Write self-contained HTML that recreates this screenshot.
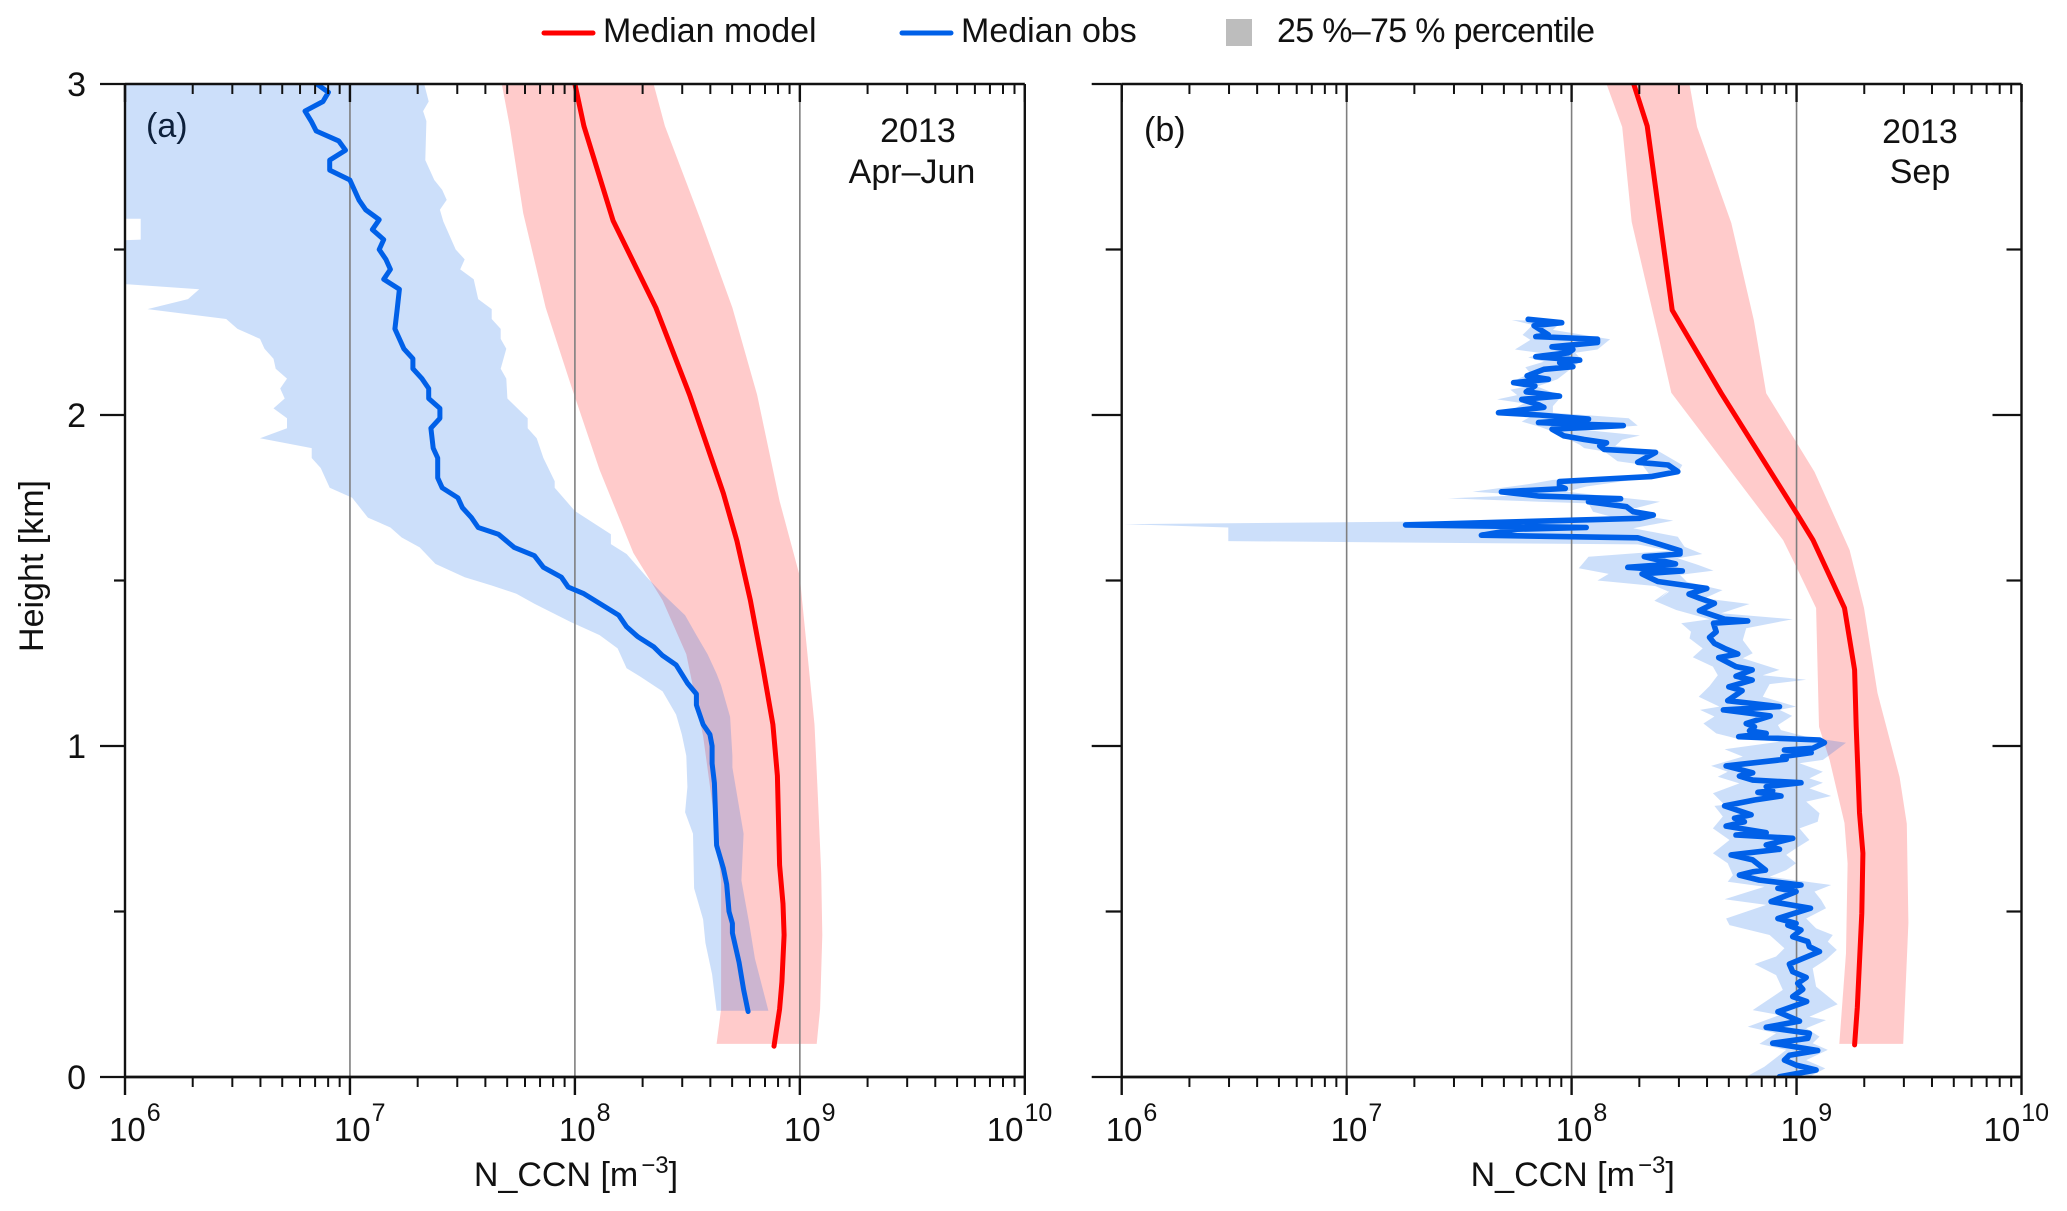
<!DOCTYPE html>
<html lang="en">
<head>
<meta charset="utf-8">
<title>N_CCN height profiles</title>
<style>
html,body{margin:0;padding:0;background:#fff;}
svg{display:block;font-family:"Liberation Sans",Arial,sans-serif;fill:#111;}
text{fill:#111;}
</style>
</head>
<body>
<svg id="chart" xmlns="http://www.w3.org/2000/svg" width="2067" height="1211" viewBox="0 0 2067 1211">
<rect x="0" y="0" width="2067" height="1211" fill="#fff"/>
<g>
<line x1="544" y1="33" x2="593" y2="33" stroke="#ff0000" stroke-width="5" stroke-linecap="round"/>
<text x="603" y="42" font-size="34">Median model</text>
<line x1="902" y1="33" x2="951" y2="33" stroke="#0060e8" stroke-width="5" stroke-linecap="round"/>
<text x="961" y="42" font-size="34">Median obs</text>
<rect x="1226" y="19" width="26" height="27" fill="#bdbdbd"/>
<text x="1277" y="42" font-size="34" textLength="318" lengthAdjust="spacing">25 %–75 % percentile</text>
</g>
<text transform="translate(43,566) rotate(-90)" text-anchor="middle" font-size="34">Height [km]</text>
<text x="146" y="137" font-size="34">(a)</text>
<text x="918" y="142" font-size="34" text-anchor="middle">2013</text>
<text x="912" y="183" font-size="34" text-anchor="middle">Apr–Jun</text>
<text x="1144" y="141" font-size="34">(b)</text>
<text x="1920" y="143" font-size="34" text-anchor="middle">2013</text>
<text x="1920" y="183" font-size="34" text-anchor="middle">Sep</text>
</svg>
<script>
// Axis data
const xDecades = [6, 7, 8, 9, 10];
const xMinorMultipliers = [2, 3, 4, 5, 6, 7, 8, 9];
const yMajorTicks = [0, 1, 2, 3];
const yMinorTicks = [0.5, 1.5, 2.5];

// Panel (a) 2013 Apr-Jun: heights in km, values as log10(N_CCN)
const aModelHeight = [3.0,2.873,2.587,2.324,2.061,1.763,1.62,1.44,1.241,1.065,0.91,0.64,0.523,0.429,0.287,0.205,0.093];
const aModelLogN = [8.0,8.04,8.17,8.36,8.51,8.66,8.72,8.78,8.835,8.88,8.90,8.91,8.925,8.93,8.92,8.91,8.885];
const aModelQ25Height = [3.0,2.873,2.61,2.324,2.085,1.834,1.583,1.44,1.277,1.03,0.806,0.594,0.205,0.1];
const aModelQ25LogN = [7.675,7.71,7.77,7.87,7.985,8.11,8.26,8.39,8.495,8.57,8.615,8.65,8.65,8.63];
const aModelQ75Height = [3.0,2.873,2.587,2.324,2.061,1.74,1.513,1.44,1.065,0.853,0.617,0.429,0.205,0.1];
const aModelQ75LogN = [8.35,8.40,8.56,8.70,8.81,8.91,9.0,9.01,9.065,9.08,9.095,9.10,9.09,9.075];
const aObsHeight = [3.0,2.975,2.947,2.918,2.885,2.858,2.828,2.80,2.77,2.74,2.71,2.65,2.62,2.59,2.56,2.53,2.50,2.47,2.44,2.41,2.38,2.32,2.26,2.20,2.17,2.14,2.11,2.08,2.05,2.02,1.99,1.96,1.90,1.87,1.81,1.78,1.75,1.72,1.69,1.66,1.64,1.60,1.575,1.54,1.51,1.48,1.46,1.395,1.36,1.33,1.30,1.273,1.245,1.19,1.157,1.124,1.065,1.035,1.0,0.947,0.888,0.70,0.63,0.582,0.50,0.464,0.435,0.346,0.264,0.198];
const aObsLogN = [6.853,6.904,6.88,6.80,6.83,6.85,6.95,6.98,6.91,6.91,7.0,7.04,7.07,7.13,7.10,7.15,7.13,7.16,7.18,7.15,7.22,7.21,7.20,7.24,7.28,7.28,7.32,7.35,7.35,7.40,7.40,7.36,7.37,7.39,7.39,7.41,7.48,7.50,7.54,7.57,7.66,7.73,7.82,7.86,7.94,7.97,8.04,8.195,8.23,8.28,8.35,8.39,8.45,8.50,8.54,8.54,8.57,8.60,8.61,8.61,8.62,8.63,8.66,8.675,8.685,8.70,8.70,8.73,8.75,8.77];
const aObsQ25Height = [3.0,2.593,2.593,2.53,2.525,2.40,2.38,2.35,2.32,2.29,2.26,2.23,2.20,2.17,2.14,2.11,2.08,2.05,2.02,1.99,1.96,1.93,1.90,1.87,1.84,1.78,1.75,1.69,1.66,1.63,1.60,1.55,1.51,1.485,1.46,1.43,1.375,1.335,1.295,1.235,1.21,1.165,1.095,1.035,0.97,0.876,0.80,0.735,0.57,0.476,0.405,0.31,0.2];
const aObsQ25LogN = [5.9,5.9,6.07,6.07,5.9,5.9,6.33,6.28,6.10,6.45,6.50,6.60,6.62,6.66,6.67,6.72,6.69,6.71,6.66,6.72,6.72,6.60,6.83,6.83,6.87,6.91,7.01,7.08,7.18,7.23,7.31,7.38,7.51,7.63,7.74,7.82,7.98,8.11,8.19,8.23,8.29,8.39,8.45,8.475,8.495,8.50,8.49,8.525,8.53,8.57,8.58,8.61,8.63];
const aObsQ75Height = [3.0,2.947,2.918,2.888,2.77,2.71,2.68,2.65,2.62,2.585,2.50,2.47,2.44,2.41,2.35,2.32,2.29,2.26,2.23,2.20,2.14,2.11,2.05,1.99,1.96,1.93,1.87,1.80,1.78,1.71,1.64,1.61,1.58,1.51,1.46,1.395,1.335,1.277,1.218,1.183,1.088,0.97,0.935,0.735,0.594,0.464,0.358,0.2];
const aObsQ75LogN = [7.33,7.35,7.325,7.34,7.335,7.375,7.41,7.43,7.40,7.415,7.47,7.51,7.49,7.55,7.57,7.63,7.63,7.67,7.67,7.695,7.67,7.695,7.70,7.79,7.79,7.83,7.86,7.91,7.91,8.0,8.16,8.16,8.23,8.32,8.39,8.49,8.54,8.59,8.63,8.65,8.69,8.70,8.70,8.75,8.74,8.775,8.80,8.86];

// Panel (b) 2013 Sep: heights in km, values as log10(N_CCN)
const bModelHeight = [3.0,2.873,2.317,2.066,1.704,1.622,1.417,1.23,1.058,0.798,0.676,0.495,0.21,0.097];
const bModelLogN = [8.276,8.336,8.447,8.665,9.0,9.073,9.213,9.258,9.265,9.28,9.295,9.29,9.27,9.258];
const bModelQ25Height = [3.0,2.87,2.583,2.227,2.067,1.622,1.54,1.417,1.058,0.958,0.767,0.646,0.374,0.1];
const bModelQ25LogN = [8.155,8.225,8.267,8.39,8.443,8.94,9.0,9.087,9.10,9.147,9.213,9.227,9.22,9.19];
const bModelQ75Height = [3.0,2.87,2.58,2.287,2.066,1.828,1.592,1.417,1.16,0.906,0.765,0.466,0.1];
const bModelQ75LogN = [8.524,8.558,8.71,8.81,8.865,9.08,9.236,9.30,9.36,9.458,9.49,9.497,9.474];
const bObsHeight = [2.289,2.279,2.27,2.242,2.237,2.229,2.219,2.206,2.198,2.188,2.176,2.168,2.166,2.158,2.146,2.138,2.118,2.108,2.098,2.088,2.07,2.057,2.047,2.03,2.023,2.007,2.0,1.988,1.977,1.973,1.968,1.957,1.937,1.926,1.916,1.907,1.896,1.887,1.857,1.849,1.829,1.814,1.799,1.785,1.778,1.768,1.755,1.747,1.738,1.723,1.708,1.698,1.688,1.668,1.66,1.655,1.637,1.629,1.609,1.59,1.58,1.572,1.55,1.54,1.529,1.52,1.497,1.476,1.459,1.446,1.431,1.409,1.383,1.378,1.371,1.345,1.328,1.31,1.295,1.278,1.267,1.24,1.23,1.211,1.199,1.179,1.167,1.137,1.119,1.109,1.091,1.068,1.058,1.046,1.038,1.028,1.018,1.01,0.993,0.988,0.98,0.968,0.96,0.94,0.919,0.909,0.897,0.889,0.877,0.865,0.86,0.849,0.837,0.819,0.792,0.782,0.771,0.758,0.738,0.731,0.721,0.701,0.688,0.671,0.656,0.625,0.62,0.61,0.595,0.58,0.57,0.56,0.53,0.51,0.479,0.464,0.459,0.444,0.424,0.409,0.394,0.379,0.341,0.318,0.301,0.283,0.265,0.243,0.228,0.197,0.169,0.15,0.132,0.117,0.102,0.08,0.066,0.051,0.036,0.021,0.001];
const bObsLogN = [7.807,7.956,7.833,7.897,7.841,8.115,8.115,7.913,8.006,7.986,7.841,7.996,8.036,7.947,8.006,7.877,7.802,7.897,7.742,7.837,7.798,7.946,7.778,7.857,7.877,7.675,7.857,8.075,7.853,7.996,8.23,7.913,7.966,8.056,8.155,8.125,8.145,8.373,8.294,8.429,8.472,8.353,7.946,7.946,7.972,7.688,7.857,8.218,8.075,8.244,8.274,8.363,8.304,7.262,8.065,7.758,7.599,8.294,8.393,8.482,8.482,8.323,8.462,8.25,8.492,8.313,8.383,8.601,8.522,8.571,8.635,8.568,8.68,8.783,8.631,8.643,8.613,8.635,8.68,8.739,8.654,8.731,8.803,8.731,8.803,8.699,8.758,8.694,8.924,8.675,8.883,8.776,8.813,8.791,8.865,8.743,9.102,9.124,9.072,8.946,9.065,8.939,8.954,8.687,8.805,8.746,8.805,9.02,8.865,8.894,8.828,8.931,8.813,8.68,8.798,8.724,8.768,8.687,8.865,8.731,8.983,8.865,8.924,8.709,8.805,8.862,8.805,8.746,8.835,9.02,8.917,8.998,8.887,9.062,8.917,8.998,8.961,9.02,8.983,9.05,9.057,9.102,8.968,8.983,9.043,9.005,9.028,8.983,9.045,8.917,9.013,8.865,9.057,9.05,8.894,9.094,8.968,8.946,8.998,9.087,8.924];
const bObsQ25Height = [2.287,2.272,2.242,2.227,2.198,2.186,2.174,2.161,2.144,2.126,2.111,2.098,2.086,2.076,2.06,2.047,2.035,2.02,2.007,1.995,1.98,1.965,1.95,1.91,1.9,1.89,1.86,1.85,1.814,1.804,1.793,1.768,1.758,1.748,1.738,1.733,1.708,1.693,1.681,1.67,1.66,1.619,1.609,1.59,1.572,1.537,1.52,1.50,1.483,1.466,1.446,1.471,1.439,1.411,1.383,1.371,1.345,1.325,1.295,1.268,1.24,1.214,1.181,1.149,1.119,1.109,1.089,1.068,1.038,1.023,1.013,0.99,0.968,0.94,0.922,0.907,0.887,0.857,0.822,0.819,0.787,0.751,0.716,0.676,0.646,0.61,0.59,0.575,0.537,0.52,0.479,0.459,0.429,0.389,0.364,0.341,0.308,0.263,0.202,0.187,0.152,0.132,0.1,0.082,0.031,0.001];
const bObsQ25LogN = [7.734,7.827,7.782,7.817,7.748,7.877,7.807,7.877,7.794,7.817,7.768,7.734,7.798,7.728,7.758,7.669,7.788,7.748,7.669,7.817,7.778,7.857,7.917,8.036,8.056,8.145,8.204,8.313,8.353,7.917,7.827,7.56,7.798,7.45,7.857,8.075,8.095,8.175,7.798,6.012,6.474,6.474,8.294,8.433,8.075,8.032,8.165,8.115,8.373,8.433,8.393,8.435,8.368,8.465,8.613,8.487,8.531,8.524,8.583,8.539,8.628,8.65,8.613,8.565,8.657,8.571,8.635,8.586,8.643,8.731,8.924,8.68,8.761,8.62,8.694,8.65,8.746,8.628,8.68,8.635,8.672,8.628,8.702,8.628,8.694,8.717,8.694,8.857,8.68,8.865,8.687,8.702,8.88,8.946,8.909,8.813,8.909,8.939,8.805,8.924,8.783,8.909,8.835,8.954,8.857,8.776];
const bObsQ75Height = [2.282,2.257,2.229,2.198,2.188,2.166,2.144,2.108,2.086,2.057,2.027,2.007,1.99,1.968,1.955,1.938,1.925,1.906,1.892,1.849,1.826,1.812,1.784,1.768,1.738,1.713,1.703,1.693,1.681,1.658,1.632,1.602,1.58,1.567,1.547,1.53,1.517,1.496,1.471,1.446,1.429,1.401,1.383,1.356,1.32,1.28,1.265,1.23,1.214,1.2,1.187,1.149,1.119,1.109,1.091,1.063,1.048,1.028,1.01,0.98,0.958,0.948,0.922,0.902,0.889,0.872,0.849,0.832,0.797,0.771,0.751,0.716,0.691,0.671,0.646,0.625,0.605,0.58,0.56,0.535,0.51,0.479,0.449,0.429,0.409,0.384,0.354,0.328,0.273,0.22,0.182,0.172,0.147,0.122,0.102,0.082,0.051,0.026,0.001];
const bObsQ75LogN = [7.956,7.917,8.171,8.115,8.016,8.046,8.006,7.937,7.847,7.956,7.917,7.917,8.254,8.294,8.056,8.304,8.224,8.194,8.383,8.492,8.472,8.353,8.065,7.976,8.393,8.254,8.373,8.343,8.452,8.274,8.472,8.502,8.581,8.472,8.562,8.631,8.482,8.512,8.671,8.591,8.791,8.665,8.983,8.776,8.761,8.805,8.761,8.924,8.85,9.043,8.88,8.85,8.998,8.924,8.98,8.917,8.931,9.043,9.22,9.161,9.117,9.013,9.117,9.057,9.117,9.057,9.154,9.043,9.102,9.094,9.013,9.057,8.998,8.954,8.998,8.954,8.88,9.154,9.08,9.109,9.131,9.043,9.087,9.161,9.139,9.179,9.131,9.072,9.087,9.183,9.057,9.131,9.043,9.102,9.072,9.139,9.043,9.128,9.057];

// Axis functions
const SVG_NS = 'http://www.w3.org/2000/svg';
const chart = document.getElementById('chart');
const DECADE_PX = 224.95;
const LOG_MIN = 6;
const LOG_MAX = 10;
const Y_ZERO = 1077;
const KM_PX = 331;
const Y_TOP = Y_ZERO - 3 * KM_PX;

function xScale(left, logN) { return left + (logN - LOG_MIN) * DECADE_PX; }
function yScale(km) { return Y_ZERO - km * KM_PX; }

function make(tag, parent, attrs) {
  const el = document.createElementNS(SVG_NS, tag);
  for (const k in attrs) el.setAttribute(k, attrs[k]);
  parent.appendChild(el);
  return el;
}
function linePoints(left, heights, logs) {
  const pts = [];
  const n = Math.min(heights.length, logs.length);
  for (let i = 0; i < n; i++) pts.push(xScale(left, logs[i]).toFixed(1) + ',' + yScale(heights[i]).toFixed(1));
  return pts;
}
function axisLine(parent, name, x1, y1, x2, y2, w) {
  const el = make('line', parent, {x1: x1, y1: y1, x2: x2, y2: y2, stroke: '#111', 'stroke-width': w});
  
  
  return el;
}

function drawPanel(id, left, cfg) {
  const right = xScale(left, LOG_MAX);
  const plotWidth = right - left;
  const panel = make('g', chart, {});
  
  

  const defs = make('defs', panel, {});
  const clip = make('clipPath', defs, {id: 'clip-' + id});
  make('rect', clip, {x: left, y: Y_TOP, width: plotWidth, height: Y_ZERO - Y_TOP});

  // percentile bands
  const bands = make('g', panel, {'clip-path': 'url(#clip-' + id + ')'});
  
  
  const modelPts = linePoints(left, cfg.mq25h, cfg.mq25).concat(linePoints(left, cfg.mq75h, cfg.mq75).reverse());
  const modelBand = make('polygon', bands, {points: modelPts.join(' '), fill: '#ffcbcb'});
  
  
  const obsPts = linePoints(left, cfg.oq25h, cfg.oq25).concat(linePoints(left, cfg.oq75h, cfg.oq75).reverse());
  const obsBand = make('polygon', bands, {points: obsPts.join(' '), fill: 'rgb(0,95,230)', 'fill-opacity': '0.2'});
  
  

  // decade gridlines
  xDecades.slice(1, -1).forEach(function (d) {
    const gx = xScale(left, d);
    const g = make('line', panel, {x1: gx, y1: Y_TOP, x2: gx, y2: Y_ZERO, stroke: '#7f7f7f', 'stroke-width': 1.6});
    
    
  });

  // median lines
  const lines = make('g', panel, {'clip-path': 'url(#clip-' + id + ')', fill: 'none', 'stroke-linejoin': 'round', 'stroke-linecap': 'round'});
  
  
  const model = make('polyline', lines, {points: linePoints(left, cfg.mh, cfg.m).join(' '), stroke: '#ff0000', 'stroke-width': 5});
  
  
  const obs = make('polyline', lines, {points: linePoints(left, cfg.oh, cfg.o).join(' '), stroke: '#0060e8', 'stroke-width': cfg.obsWidth});
  
  

  // frame
  const axes = make('g', panel, {});
  
  
  axisLine(axes, 'frame-left-' + id, left, Y_TOP, left, Y_ZERO, 2.4);
  axisLine(axes, 'frame-right-' + id, right, Y_TOP, right, Y_ZERO, 2.4);
  axisLine(axes, 'frame-top-' + id, left, Y_TOP, right, Y_TOP, 2.4);
  axisLine(axes, 'frame-bottom-' + id, left, Y_ZERO, right, Y_ZERO, 2.8);

  // x ticks
  xDecades.forEach(function (d) {
    const tx = xScale(left, d);
    axisLine(axes, 'x-major-tick-bottom', tx, Y_ZERO, tx, Y_ZERO + 18, 2.4);
    axisLine(axes, 'x-major-tick-top', tx, Y_TOP, tx, Y_TOP + 18, 2.4);
    const label = make('text', axes, {x: tx - (d === 10 ? 38 : 16), y: 1141, 'font-size': 33});
    
    
    const base = make('tspan', label, {});
    base.textContent = '10';
    const sup = make('tspan', label, {dy: -20, 'font-size': 25, dx: 1});
    sup.textContent = String(d);
    if (d < 10) {
      xMinorMultipliers.forEach(function (m) {
        const mx = xScale(left, d + Math.log10(m));
        axisLine(axes, 'x-minor-tick-bottom', mx, Y_ZERO, mx, Y_ZERO + 10, 2);
        axisLine(axes, 'x-minor-tick-top', mx, Y_TOP, mx, Y_TOP + 10, 2);
      });
    }
  });

  // y ticks
  yMajorTicks.forEach(function (km) {
    const ty = yScale(km);
    axisLine(axes, 'y-major-tick-left', left - cfg.majorLen, ty, left, ty, 2.2);
    if (cfg.rightTicks) axisLine(axes, 'y-major-tick-right', right - 29, ty, right, ty, 2.2);
    if (cfg.yLabels) {
      const label = make('text', axes, {x: 86, y: ty + 12, 'font-size': 34, 'text-anchor': 'end'});
      
      
      label.textContent = String(km);
    }
  });
  yMinorTicks.forEach(function (km) {
    const ty = yScale(km);
    axisLine(axes, 'y-minor-tick-left', left - cfg.minorLen, ty, left, ty, 2.2);
    if (cfg.rightTicks) axisLine(axes, 'y-minor-tick-right', right - 15, ty, right, ty, 2.2);
  });

  // x axis title
  const title = make('text', axes, {x: left + 451, y: 1186, 'font-size': 34, 'text-anchor': 'middle'});
  
  
  const t1 = make('tspan', title, {});
  t1.textContent = 'N_CCN [m';
  const t2 = make('tspan', title, {dy: -13, dx: 3, 'font-size': 24});
  t2.textContent = '−3';
  const t3 = make('tspan', title, {dy: 13});
  t3.textContent = ']';
}

drawPanel('a', 125, {
  m: aModelLogN, mh: aModelHeight,
  mq25: aModelQ25LogN, mq25h: aModelQ25Height, mq75: aModelQ75LogN, mq75h: aModelQ75Height,
  o: aObsLogN, oh: aObsHeight,
  oq25: aObsQ25LogN, oq25h: aObsQ25Height, oq75: aObsQ75LogN, oq75h: aObsQ75Height,
  obsWidth: 5, majorLen: 25, minorLen: 11, rightTicks: false, yLabels: true
});
drawPanel('b', 1121.7, {
  m: bModelLogN, mh: bModelHeight,
  mq25: bModelQ25LogN, mq25h: bModelQ25Height, mq75: bModelQ75LogN, mq75h: bModelQ75Height,
  o: bObsLogN, oh: bObsHeight,
  oq25: bObsQ25LogN, oq25h: bObsQ25Height, oq75: bObsQ75LogN, oq75h: bObsQ75Height,
  obsWidth: 5.6, majorLen: 30, minorLen: 16, rightTicks: true, yLabels: false
});
</script>
</body>
</html>
